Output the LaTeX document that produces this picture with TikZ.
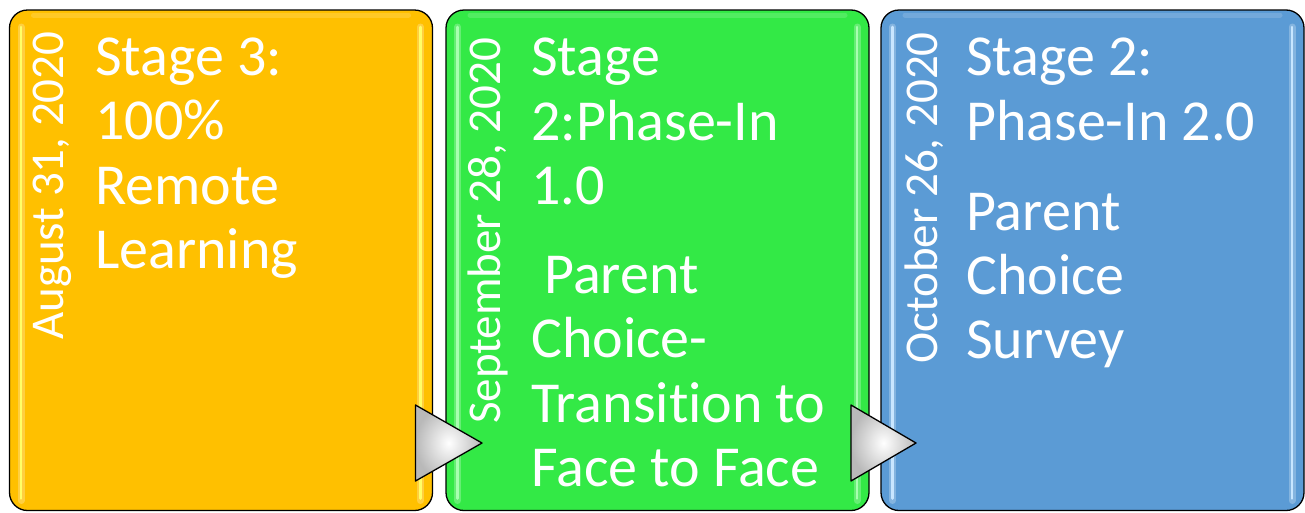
\documentclass[tikz,border=0pt]{standalone}
\usepackage{fontspec}
\setmainfont{Carlito}[Ligatures=NoCommon]
\usetikzlibrary{calc}
\definecolor{orangeC}{HTML}{FFC000}
\definecolor{greenC}{HTML}{33E946}
\definecolor{blueC}{HTML}{5B9BD5}
\definecolor{hlOrange}{HTML}{FFFF66}
\definecolor{hlGreen}{HTML}{A8FFB0}
\definecolor{hlBlue}{HTML}{C8E6FF}
\tikzset{
  stagebox/.style={draw=black, line width=1.3pt, rounded corners=18pt, outer sep=0pt,
    minimum width=423pt, minimum height=500.5pt, anchor=north west, inner sep=0pt},
  glow/.style={line width=7pt, line cap=round, white, opacity=0.25},
  hl/.style={line width=2.6pt, line cap=round},
  topglow/.style={line width=5pt, line cap=round, white, opacity=0.15},
  maintxt/.style={text=white, font=\fontsize{58}{64}\selectfont, anchor=base west, inner sep=0pt},
  datetxt/.style={text=white, font=\fontsize{47}{56}\selectfont, anchor=base west, inner sep=0pt, rotate=90},
  tri/.style={draw=black, line width=1.3pt, line join=round, inner color=white, outer color=gray!55}
}
\begin{document}
\begin{tikzpicture}[x=1pt,y=1pt]
\useasboundingbox (0,0) rectangle (1305,-512);
% boxes
\node[stagebox, fill=orangeC] (b1) at (9.5,-10) {};
\node[stagebox, fill=greenC] (b2) at (446,-10) {};
\node[stagebox, fill=blueC] (b3) at (881,-10) {};
% glossy highlights
\foreach \b/\c in {b1/hlOrange, b2/hlGreen, b3/hlBlue}{
  \draw[glow] ([xshift=11.5pt,yshift=-17pt]\b.north west) -- ([xshift=11.5pt,yshift=10pt]\b.south west);
  \draw[glow] ([xshift=-12pt,yshift=-17pt]\b.north east) -- ([xshift=-12pt,yshift=10pt]\b.south east);
  \draw[topglow] ([xshift=24pt,yshift=-5pt]\b.north west) -- ([xshift=-24pt,yshift=-5pt]\b.north east);
  \draw[hl, \c] ([xshift=11.5pt,yshift=-17pt]\b.north west) -- ([xshift=11.5pt,yshift=12pt]\b.south west);
  \draw[hl, \c] ([xshift=-12pt,yshift=-17pt]\b.north east) -- ([xshift=-12pt,yshift=12pt]\b.south east);
}
% arrow triangles between boxes
\coordinate (t1a) at ([xshift=-17pt,yshift=-395pt]b1.north east);
\coordinate (t1b) at ([xshift=-17pt,yshift=-471pt]b1.north east);
\coordinate (t1c) at ([xshift=36pt,yshift=-433pt]b2.north west);
\coordinate (t2a) at ([xshift=-18pt,yshift=-395pt]b2.north east);
\coordinate (t2b) at ([xshift=-18pt,yshift=-471pt]b2.north east);
\coordinate (t2c) at ([xshift=35pt,yshift=-433pt]b3.north west);
\draw[tri] (t1a) -- (t1c) -- (t1b) -- cycle;
\draw[tri] (t2a) -- (t2c) -- (t2b) -- cycle;
% dates
\node[datetxt] (d1) at (63,-340) {August 31, 2020};
\node[datetxt] (d2) at (500,-424) {September 28, 2020};
\node[datetxt] (d3) at (937,-364) {October 26, 2020};
% box 1 text
\node[maintxt] (a1) at (95,-75) {Stage 3:};
\node[maintxt] (a2) at (95,-139.5) {100\%};
\node[maintxt] (a3) at (95,-204) {Remote};
\node[maintxt] (a4) at (95,-268.5) {Learning};
% box 2 text
\node[maintxt] (c1) at (531,-75) {Stage};
\node[maintxt] (c2) at (531,-140) {2:Phase-In};
\node[maintxt] (c3) at (531,-204) {1.0};
\node[maintxt] (c4) at (531,-293) {\ Parent};
\node[maintxt] (c5) at (531,-357) {Choice-};
\node[maintxt] (c6) at (531,-422) {Transition to};
\node[maintxt] (c7) at (531,-486) {Face to Face};
% box 3 text
\node[maintxt] (e1) at (966,-75) {Stage 2:};
\node[maintxt] (e2) at (966,-140) {Phase-In 2.0};
\node[maintxt] (e3) at (966,-230) {Parent};
\node[maintxt] (e4) at (966,-294) {Choice};
\node[maintxt] (e5) at (966,-358) {Survey};
\end{tikzpicture}
\end{document}
